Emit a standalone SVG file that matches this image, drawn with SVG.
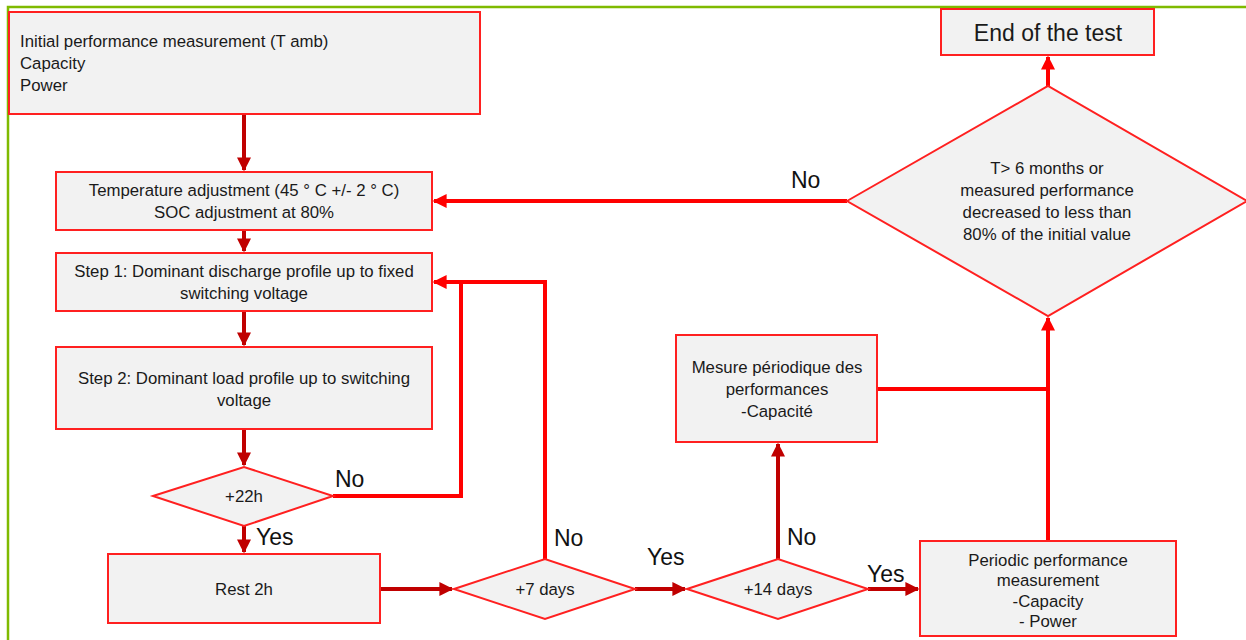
<svg xmlns="http://www.w3.org/2000/svg" width="1246" height="640" viewBox="0 0 1246 640">
<style>
.box{fill:#f2f2f2;stroke:#ff2020;stroke-width:2}
.t{font-family:"Liberation Sans",Arial,sans-serif;font-size:16.8px;fill:#1a1a1a}
.c{text-anchor:middle}
.lbl{font-family:"Liberation Sans",Arial,sans-serif;font-size:23px;fill:#111}
.dk{stroke:#c00000;stroke-width:4;fill:none}
.br{stroke:#ff0000;stroke-width:4;fill:none}
</style>
<defs>
<marker id="ad" viewBox="0 0 10 10" refX="9" refY="5" markerWidth="3.5" markerHeight="3.5" orient="auto" markerUnits="strokeWidth"><path d="M0,0 L10,5 L0,10 z" fill="#c00000"/></marker>
<marker id="ab" viewBox="0 0 10 10" refX="9" refY="5" markerWidth="3.5" markerHeight="3.5" orient="auto" markerUnits="strokeWidth"><path d="M0,0 L10,5 L0,10 z" fill="#ff0000"/></marker>
</defs>
<rect width="1246" height="640" fill="#fff"/>
<path d="M8,640 V7 H1246" fill="none" stroke="#7fba00" stroke-width="2.5"/>

<g id="connectors">
<path class="dk" d="M244,114 V170" marker-end="url(#ad)"/>
<path class="dk" d="M244,230 V251" marker-end="url(#ad)"/>
<path class="dk" d="M244,311 V345" marker-end="url(#ad)"/>
<path class="dk" d="M244,429 V465" marker-end="url(#ad)"/>
<path class="dk" d="M244,526 V552" marker-end="url(#ad)"/>
<path class="br" d="M333,496 H461 V282"/>
<path class="br" d="M545,559 V282 H434" marker-end="url(#ab)"/>
<path class="dk" d="M380,589 H452" marker-end="url(#ad)"/>
<path class="dk" d="M635,589 H685" marker-end="url(#ad)"/>
<path class="dk" d="M868,589 H918" marker-end="url(#ad)"/>
<path class="dk" d="M778,559 V444" marker-end="url(#ad)"/>
<path class="br" d="M1048,541 V318" marker-end="url(#ab)"/>
<path class="br" d="M877,389 H1048"/>
<path class="br" d="M1048,86 V57" marker-end="url(#ab)"/>
<path class="br" d="M847,201 H434" marker-end="url(#ab)"/>
<text class="lbl" x="335" y="487">No</text>
<text class="lbl" x="256" y="545">Yes</text>
<text class="lbl" x="554" y="546">No</text>
<text class="lbl" x="647" y="565">Yes</text>
<text class="lbl" x="787" y="545">No</text>
<text class="lbl" x="867" y="582">Yes</text>
<text class="lbl" x="791" y="188">No</text>
</g>

<g id="initial">
<rect class="box" x="9" y="12" width="471" height="102"/>
<text class="t" x="20" y="47">Initial performance measurement (T amb)</text>
<text class="t" x="20" y="69">Capacity</text>
<text class="t" x="20" y="91">Power</text>
</g>
<g id="temp">
<rect class="box" x="56" y="172" width="376" height="58"/>
<text class="t c" x="244" y="196">Temperature adjustment (45 ° C +/- 2 ° C)</text>
<text class="t c" x="244" y="218">SOC adjustment at 80%</text>
</g>
<g id="step1">
<rect class="box" x="56" y="253" width="376" height="58"/>
<text class="t c" x="244" y="277">Step 1: Dominant discharge profile up to fixed</text>
<text class="t c" x="244" y="299">switching voltage</text>
</g>
<g id="step2">
<rect class="box" x="56" y="347" width="376" height="82"/>
<text class="t c" x="244" y="384">Step 2: Dominant load profile up to switching</text>
<text class="t c" x="244" y="406">voltage</text>
</g>
<g id="d22h">
<polygon class="box" points="153,496 244,467 333,496 244,526"/>
<text class="t c" x="244" y="502">+22h</text>
</g>
<g id="rest">
<rect class="box" x="108" y="554" width="272" height="69"/>
<text class="t c" x="244" y="595">Rest 2h</text>
</g>
<g id="d7">
<polygon class="box" points="454,589 545,559 635,589 545,619"/>
<text class="t c" x="545" y="595">+7 days</text>
</g>
<g id="d14">
<polygon class="box" points="687,589 778,559 868,589 778,619"/>
<text class="t c" x="778" y="595">+14 days</text>
</g>
<g id="periodic">
<rect class="box" x="920" y="541" width="256" height="95"/>
<text class="t c" x="1048" y="566">Periodic performance</text>
<text class="t c" x="1048" y="586">measurement</text>
<text class="t c" x="1048" y="607">-Capacity</text>
<text class="t c" x="1048" y="627">- Power</text>
</g>
<g id="mesure">
<rect class="box" x="676" y="335" width="201" height="107"/>
<text class="t c" x="777" y="373">Mesure périodique des</text>
<text class="t c" x="777" y="395">performances</text>
<text class="t c" x="777" y="417">-Capacité</text>
</g>
<g id="decision">
<polygon class="box" points="847,201 1048,86 1247,201 1048,316"/>
<text class="t c" x="1047" y="174">T&gt; 6 months or</text>
<text class="t c" x="1047" y="196">measured performance</text>
<text class="t c" x="1047" y="218">decreased to less than</text>
<text class="t c" x="1047" y="240">80% of the initial value</text>
</g>
<g id="end">
<rect class="box" x="941" y="9" width="213" height="46"/>
<text class="t c" x="1048" y="41" style="font-size:23px">End of the test</text>
</g>
</svg>
